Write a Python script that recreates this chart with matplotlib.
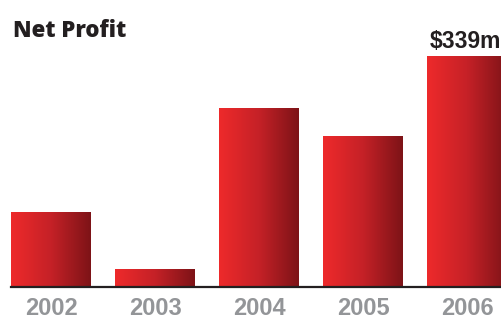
import numpy as np
import matplotlib
matplotlib.use("Agg")
import matplotlib.pyplot as plt
from matplotlib.colors import LinearSegmentedColormap
from matplotlib.patches import Rectangle

years = ["2002", "2003", "2004", "2005", "2006"]
profit = [110, 26, 263, 222, 339]   # $m
top_label = "$339m"

W, H = 502, 321
fig = plt.figure(figsize=(W / 100, H / 100), dpi=100)
ax = fig.add_axes([0, 34 / H, 1, 287 / H])
ax.set_axis_off()

px_per_unit = 104.0
bar_w = 80 / px_per_unit
xlim = (-51 / px_per_unit, (W - 51) / px_per_unit)
ylim = (0, 287 * 339 / 231.3)

red = LinearSegmentedColormap.from_list("red", ["#ee2a2b", "#c52127", "#7d1317"])
grad = np.linspace(0, 1, 256).reshape(1, -1)

x = np.arange(len(years))
bars = ax.bar(x, profit, width=bar_w, color="none", edgecolor="none")
for b in bars:
    x0, w, h = b.get_x(), b.get_width(), b.get_height()
    im = ax.imshow(grad, cmap=red, aspect="auto", extent=(x0, x0 + w, 0, h),
                   interpolation="bicubic", zorder=2)
    im.set_clip_path(Rectangle((x0, 0), w, h, transform=ax.transData))

ax.set_aspect("auto")
ax.set_xlim(*xlim)
ax.set_ylim(*ylim)

# baseline
ax.axhline(0, xmin=11 / W, xmax=1, color="#231f20", lw=1.6, zorder=3, clip_on=False)

# year labels
for i, yr in zip(x, years):
    ax.annotate(yr, (i, 0), xytext=(0, -28 * 0.72), textcoords="offset points",
                ha="center", va="baseline", fontsize=17, fontweight="bold",
                color="#939598", family="Liberation Sans", annotation_clip=False)

# value on last bar
fig.text(501 / W, 1 - 48 / H, top_label, ha="right", va="baseline",
         fontsize=16.5, fontweight="bold", color="#231f20", family="Liberation Sans")

fig.text(13 / W, 1 - 37 / H, "Net Profit", ha="left", va="baseline",
         fontsize=16, fontweight="heavy", color="#231f20", family="Open Sans")

fig.savefig("out.png", dpi=100)
